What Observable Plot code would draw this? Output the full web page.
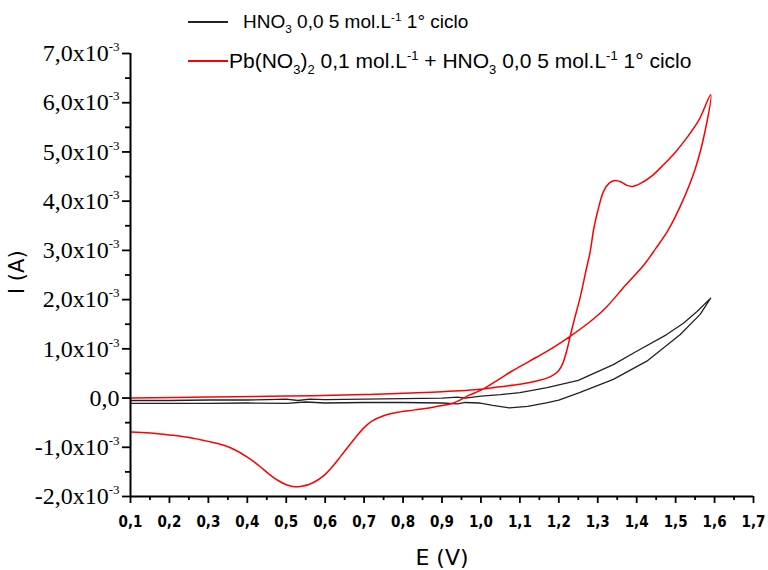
<!DOCTYPE html>
<html>
<head>
<meta charset="utf-8">
<script src="https://cdn.jsdelivr.net/npm/d3@7"></script>
<script src="https://cdn.jsdelivr.net/npm/@observablehq/plot@0.6"></script>
<style>
  html, body { margin: 0; padding: 0; background: #fff; }
  #wrap { position: relative; width: 768px; height: 570px; overflow: hidden; }
  #legend { position: absolute; left: 0; top: 0; width: 768px; height: 80px;
            font-family: "Liberation Sans", Arial, sans-serif; color: #000; }
  .row { position: absolute; white-space: nowrap; }
  .sw { position: absolute; height: 0; width: 40px; border-top: 2px solid; }
  .sub { font-size: 0.62em; position: relative; top: 0.45em; }
  .sup { font-size: 0.62em; position: relative; top: -0.62em; }
  svg g.ylab, svg g.ylab text { font-family: "Liberation Serif", "Times New Roman", serif !important; font-size: 24px !important; }
</style>
</head>
<body>
<div id="wrap">
  <div id="chart"></div>
  <div id="legend">
    <div class="sw" style="left:188px; top:21px; border-color:#222;"></div>
    <div class="row" style="left:243px; top:12px; font-size:19px; line-height:19px;">HNO<span class="sub">3</span> 0,0 5 mol.L<span class="sup">-1</span> 1° ciclo</div>
    <div class="sw" style="left:188px; top:60px; border-color:#ff0000;"></div>
    <div class="row" style="left:229px; top:50px; font-size:21px; line-height:21px;">Pb(NO<span class="sub">3</span>)<span class="sub">2</span> 0,1 mol.L<span class="sup">-1</span> + HNO<span class="sub">3</span> 0,0 5 mol.L<span class="sup">-1</span> 1° ciclo</div>
  </div>
</div>
<script>
// ---- Data (E in V, I in A) ----
// HNO3 0,05 mol/L, 1st cycle: forward scan then reverse scan
const hno3E = [0.10, 0.20, 0.30, 0.40, 0.45, 0.50, 0.53, 0.56, 0.60, 0.70, 0.80, 0.90, 0.94, 0.96, 1.00, 1.05, 1.10, 1.17, 1.25, 1.34, 1.40, 1.477, 1.52, 1.555, 1.59,
               1.563, 1.512, 1.426, 1.34, 1.253, 1.20, 1.168, 1.12, 1.073, 1.03, 0.995, 0.96, 0.94, 0.90, 0.80, 0.70, 0.60, 0.55, 0.50, 0.40, 0.30, 0.20, 0.10];
const hno3I = [-0.05e-3, -0.05e-3, -0.04e-3, -0.04e-3, -0.03e-3, -0.02e-3, -0.05e-3, -0.02e-3, -0.03e-3, -0.02e-3, -0.01e-3, 0.0, 0.02e-3, 0.0, 0.04e-3, 0.07e-3, 0.11e-3, 0.21e-3, 0.36e-3, 0.68e-3, 0.95e-3, 1.29e-3, 1.52e-3, 1.76e-3, 2.03e-3,
               1.70e-3, 1.29e-3, 0.75e-3, 0.38e-3, 0.11e-3, -0.04e-3, -0.10e-3, -0.17e-3, -0.20e-3, -0.15e-3, -0.10e-3, -0.09e-3, -0.12e-3, -0.10e-3, -0.09e-3, -0.09e-3, -0.10e-3, -0.08e-3, -0.11e-3, -0.10e-3, -0.11e-3, -0.11e-3, -0.11e-3];

// Pb(NO3)2 0,1 mol/L + HNO3 0,05 mol/L, 1st cycle
const pbE = [0.10, 0.30, 0.50, 0.70, 0.80, 0.90, 1.00, 1.05, 1.10, 1.15, 1.18, 1.20, 1.21, 1.22, 1.23, 1.24, 1.255, 1.27, 1.28, 1.29, 1.30, 1.315, 1.33, 1.345, 1.36, 1.375, 1.39, 1.41, 1.44, 1.47, 1.50, 1.53, 1.56, 1.59,
             1.575, 1.55, 1.515, 1.48, 1.45, 1.42, 1.37, 1.32, 1.28, 1.23, 1.18, 1.125, 1.08, 1.04, 1.00, 0.97, 0.93, 0.88, 0.83, 0.78, 0.75, 0.72, 0.70, 0.68, 0.66, 0.64, 0.62, 0.60, 0.58, 0.56, 0.54, 0.52, 0.50, 0.48, 0.46, 0.44, 0.42, 0.40, 0.37, 0.34, 0.30, 0.25, 0.20, 0.15, 0.10];
const pbI = [0.0, 0.02e-3, 0.04e-3, 0.07e-3, 0.10e-3, 0.13e-3, 0.18e-3, 0.23e-3, 0.28e-3, 0.36e-3, 0.44e-3, 0.56e-3, 0.70e-3, 0.95e-3, 1.28e-3, 1.60e-3, 2.05e-3, 2.60e-3, 2.95e-3, 3.45e-3, 3.80e-3, 4.20e-3, 4.37e-3, 4.42e-3, 4.39e-3, 4.32e-3, 4.30e-3, 4.36e-3, 4.52e-3, 4.75e-3, 5.00e-3, 5.30e-3, 5.65e-3, 6.16e-3,
             5.40e-3, 4.65e-3, 3.95e-3, 3.40e-3, 3.05e-3, 2.72e-3, 2.28e-3, 1.83e-3, 1.55e-3, 1.26e-3, 1.00e-3, 0.75e-3, 0.55e-3, 0.35e-3, 0.16e-3, 0.06e-3, -0.10e-3, -0.18e-3, -0.24e-3, -0.30e-3, -0.36e-3, -0.47e-3, -0.60e-3, -0.78e-3, -0.98e-3, -1.18e-3, -1.38e-3, -1.55e-3, -1.67e-3, -1.75e-3, -1.79e-3, -1.80e-3, -1.76e-3, -1.68e-3, -1.57e-3, -1.44e-3, -1.31e-3, -1.20e-3, -1.06e-3, -0.96e-3, -0.88e-3, -0.80e-3, -0.75e-3, -0.71e-3, -0.69e-3];

// Axis ticks
const xTicks = [0.1, 0.2, 0.3, 0.4, 0.5, 0.6, 0.7, 0.8, 0.9, 1.0, 1.1, 1.2, 1.3, 1.4, 1.5, 1.6, 1.7];
const xMinor = [0.15, 0.25, 0.35, 0.45, 0.55, 0.65, 0.75, 0.85, 0.95, 1.05, 1.15, 1.25, 1.35, 1.45, 1.55, 1.65];
const yTicks = [-2e-3, -1e-3, 0, 1e-3, 2e-3, 3e-3, 4e-3, 5e-3, 6e-3, 7e-3];
const yMinor = [-1.5e-3, -0.5e-3, 0.5e-3, 1.5e-3, 2.5e-3, 3.5e-3, 4.5e-3, 5.5e-3, 6.5e-3];

const hno3 = hno3E.map((e, i) => ({e, i: hno3I[i]}));
const pb = pbE.map((e, i) => ({e, i: pbI[i]}));

const fmtX = d => d.toFixed(1).replace(".", ",");
const fmtY = d => {
  const m = Math.round(d * 1e4) / 10;
  if (m === 0) return "0,0";
  return m.toFixed(1).replace(".", ",") + "x10";
};

const chart = Plot.plot({
  width: 768,
  height: 570,
  marginTop: 53,
  marginBottom: 74,
  marginLeft: 130,
  marginRight: 15,
  x: {domain: [0.1, 1.7]},
  y: {domain: [-2e-3, 7e-3]},
  style: {background: "#fff", color: "#000"},
  marks: [
    Plot.line(hno3, {x: "e", y: "i", stroke: "#222", strokeWidth: 1.3, curve: "linear"}),
    Plot.line(pb, {x: "e", y: "i", stroke: "#ff0000", strokeWidth: 1.5, curve: "catmull-rom"}),
    Plot.axisX({ticks: xTicks, tickSize: 7, tickPadding: 13, tickFormat: fmtX, label: null, strokeWidth: 1.8}),
    Plot.axisX({ticks: xMinor, tickSize: 4, tickFormat: () => "", label: null, strokeWidth: 1.8}),
    Plot.axisY({ticks: yTicks, tickSize: 8, tickPadding: 3, tickFormat: fmtY, label: null, strokeWidth: 1.8,
                fontFamily: "Liberation Serif, Times New Roman, serif", fontSize: 24}),
    Plot.axisY({ticks: yMinor, tickSize: 5, tickFormat: () => "", label: null, strokeWidth: 1.8}),
    Plot.ruleX([0.1], {stroke: "#000", strokeWidth: 2}),
    Plot.ruleY([-2e-3], {stroke: "#000", strokeWidth: 2}),
    Plot.text(["E (V)"], {frameAnchor: "bottom", dy: 68, fontSize: 22, fontFamily: "DejaVu Sans, sans-serif", fill: "#000"}),
    Plot.text(["I (A)"], {frameAnchor: "left", dx: -113, dy: 19, rotate: -90, fontSize: 21, fontFamily: "DejaVu Sans, sans-serif", fill: "#000"})
  ]
});

const s = d3.select(chart);
s.selectAll('g[aria-label="x-axis tick label"]')
  .style("font-family", "'DejaVu Sans Condensed', 'DejaVu Sans', sans-serif")
  .style("font-stretch", "condensed")
  .style("font-size", "15px")
  .style("font-weight", "bold");
s.selectAll('g[aria-label="y-axis tick label"]').classed("ylab", true);
s.selectAll('g[aria-label="y-axis tick label"] text').each(function () {
  const t = this.textContent;
  if (t.endsWith("x10")) {
    d3.select(this).append("tspan").attr("dy", -10).style("font-size", "13px").text("-3");
  }
});

document.getElementById("chart").appendChild(chart);
</script>
</body>
</html>
